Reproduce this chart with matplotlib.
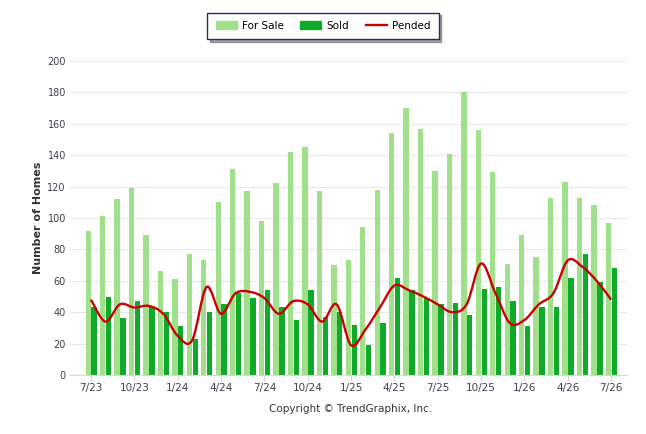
import matplotlib
matplotlib.use("Agg")
import matplotlib.pyplot as plt
from matplotlib.path import Path
from matplotlib.patches import PathPatch, Patch
from matplotlib.lines import Line2D

months = ["7/23", "8/23", "9/23", "10/23", "11/23", "12/23",
          "1/24", "2/24", "3/24", "4/24", "5/24", "6/24",
          "7/24", "8/24", "9/24", "10/24", "11/24", "12/24",
          "1/25", "2/25", "3/25", "4/25", "5/25", "6/25",
          "7/25", "8/25", "9/25", "10/25", "11/25", "12/25",
          "1/26", "2/26", "3/26", "4/26", "5/26", "6/26", "7/26"]

for_sale = [92, 101, 112, 119, 89, 66, 61, 77, 73, 110, 131, 117,
            98, 122, 142, 145, 117, 70, 73, 94, 118, 154, 170, 157,
            130, 141, 180, 156, 129, 71, 89, 75, 113, 123, 113, 108, 97]

sold = [43, 50, 36, 47, 43, 40, 31, 23, 40, 45, 52, 49,
        54, 43, 35, 54, 37, 40, 32, 19, 33, 62, 54, 49,
        45, 46, 38, 55, 56, 47, 31, 43, 43, 62, 77, 59, 68]

pended = [48, 34, 45, 43, 44, 39, 25, 22, 56, 39, 52, 53,
          49, 39, 47, 45, 34, 45, 19, 29, 43, 57, 54, 50,
          45, 40, 45, 71, 52, 33, 35, 45, 52, 73, 69, 60, 48]

LIGHT = "#a0e08a"
DARK = "#10aa2a"
RED = "#cc0000"
TXT = "#404050"


def smooth_path(xs, ys):
    # catmull-rom curve through the monthly points, as cubic beziers
    n = len(xs)
    verts = [(xs[0], ys[0])]
    codes = [Path.MOVETO]
    for i in range(n - 1):
        a = max(i - 1, 0)
        d = min(i + 2, n - 1)
        c1 = (xs[i] + (xs[i + 1] - xs[a]) / 6, ys[i] + (ys[i + 1] - ys[a]) / 6)
        c2 = (xs[i + 1] - (xs[d] - xs[i]) / 6, ys[i + 1] - (ys[d] - ys[i]) / 6)
        verts += [c1, c2, (xs[i + 1], ys[i + 1])]
        codes += [Path.CURVE4] * 3
    return Path(verts, codes)


fig = plt.figure(figsize=(6.46, 4.34), dpi=100)
ax = fig.add_axes([70 / 646, 59 / 434, 557 / 646, 314 / 434])

x = list(range(len(months)))
ax.bar([i - 0.19 for i in x], for_sale, width=0.37, color=LIGHT, zorder=2)
ax.bar([i + 0.22 for i in x], sold, width=0.37, color=DARK, zorder=2)
ax.add_patch(PathPatch(smooth_path(x, pended), facecolor="none",
                       edgecolor=RED, lw=1.7, zorder=3))

ax.set_xlim(-1.45, 37.1)
ax.set_ylim(0, 200)
ax.set_yticks(range(0, 201, 20))
ax.set_xticks(x[::3])
ax.set_xticklabels(months[::3])
ax.grid(axis="y", color="#e8e8e8", lw=0.8, zorder=0)
ax.set_axisbelow(True)
for s in ["top", "right", "left"]:
    ax.spines[s].set_visible(False)
ax.spines["bottom"].set_color("#d8d8d8")
ax.tick_params(axis="y", length=0, labelsize=7, labelcolor=TXT, pad=3)
ax.tick_params(axis="x", length=4, color="#d8d8d8", labelsize=7.5,
               labelcolor=TXT, pad=2)
ax.set_ylabel("Number of Homes", fontsize=8, fontweight="bold",
              color="#333333", labelpad=3)

fig.text(351 / 646, 1 - 409 / 434, "Copyright \u00a9 TrendGraphix, Inc.",
         ha="center", va="center", fontsize=7.5, color="#333333")

handles = [Patch(color=LIGHT, label="For Sale"),
           Patch(color=DARK, label="Sold"),
           Line2D([], [], color=RED, lw=1.7, label="Pended")]
leg = fig.legend(handles=handles, loc="center", ncol=3,
                 bbox_to_anchor=(323 / 646, 1 - 26 / 434), fontsize=7.5,
                 frameon=True, fancybox=False, shadow=True,
                 edgecolor="#1f3060", handlelength=2.0, handleheight=0.8,
                 handletextpad=0.5, columnspacing=1.6, borderpad=0.8)
leg.get_frame().set_linewidth(1.0)

fig.savefig("out.png", dpi=100)
